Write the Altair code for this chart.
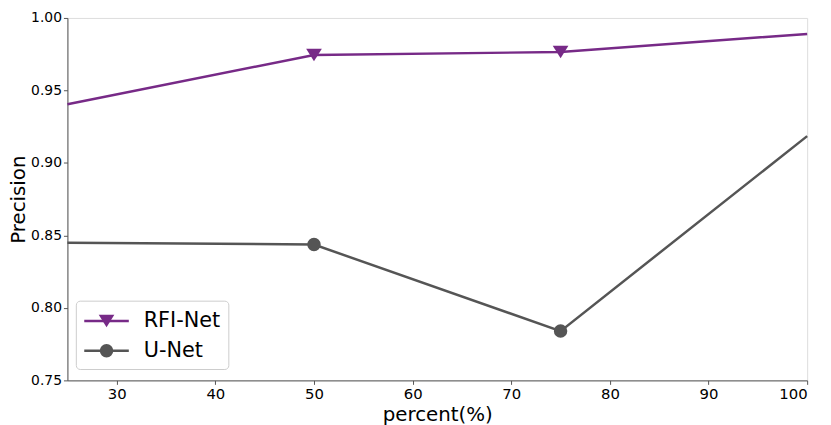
import altair as alt
import pandas as pd

percent = [25, 50, 75, 100]
rfi_net = [0.9405, 0.9745, 0.9765, 0.989]
u_net = [0.845, 0.8437, 0.784, 0.9185]
marker_percent = [50, 75]
series_names = ["RFI-Net", "U-Net"]
series_colors = ["#772a87", "#555555"]

rows = []
for p, a, b in zip(percent, rfi_net, u_net):
    rows.append({"percent": p, "series": "RFI-Net", "value": a})
    rows.append({"percent": p, "series": "U-Net", "value": b})
df = pd.DataFrame(rows)
mk = df[df["percent"].isin(marker_percent)].reset_index(drop=True)

FONT = "DejaVu Sans"
TRI = "M-1,-0.8L1,-0.8L0,0.8Z"
TRI_SIZE = 250
CIR_SIZE = 185

xenc = alt.X("percent:Q", title="percent(%)",
             scale=alt.Scale(domain=[25, 100], nice=False, zero=False),
             axis=alt.Axis(values=[30, 40, 50, 60, 70, 80, 90, 100], grid=False,
                           labelFontSize=15, titleFontSize=20, titleFontWeight="normal",
                           labelFont=FONT, titleFont=FONT, tickSize=4,
                           domainColor="#555555", tickColor="#555555",
                           labelColor="black", titleColor="black", titlePadding=4))
yenc = alt.Y("value:Q", title="Precision",
             scale=alt.Scale(domain=[0.75, 1.0], nice=False, zero=False),
             axis=alt.Axis(values=[0.75, 0.8, 0.85, 0.9, 0.95, 1.0], format=".2f", grid=False,
                           labelFontSize=14, titleFontSize=20, titleFontWeight="normal",
                           labelFont=FONT, titleFont=FONT, tickSize=4,
                           domainColor="#555555", tickColor="#555555",
                           labelColor="black", titleColor="black", titlePadding=2))

lines = alt.Chart(df).mark_line(strokeWidth=2.5).encode(
    x=xenc, y=yenc,
    color=alt.Color("series:N", scale=alt.Scale(domain=series_names, range=series_colors), legend=None),
)

tri = alt.Chart(mk).transform_filter(alt.datum.series == "RFI-Net").mark_point(
    shape=TRI, size=TRI_SIZE, filled=True, opacity=1, color=series_colors[0]
).encode(x="percent:Q", y="value:Q")

cir = alt.Chart(mk).transform_filter(alt.datum.series == "U-Net").mark_point(
    shape="circle", size=CIR_SIZE, filled=True, opacity=1, color=series_colors[1]
).encode(x="percent:Q", y="value:Q")

# legend (drawn as marks, pixel positions inside the plot area)
one = alt.Data(values=[{}])
leg_box = alt.Chart(one).mark_rect(fill="white", stroke="#cccccc", strokeWidth=1, cornerRadius=4).encode(
    x=alt.value(9), x2=alt.value(163), y=alt.value(286), y2=alt.value(355))

legend_layers = [leg_box]
row_y = [306, 336]
shapes = [TRI, "circle"]
sizes = [TRI_SIZE, CIR_SIZE]
for name, col, yy, shp, sz in zip(series_names, series_colors, row_y, shapes, sizes):
    legend_layers.append(alt.Chart(one).mark_rule(color=col, strokeWidth=2.5).encode(
        x=alt.value(17), x2=alt.value(62), y=alt.value(yy)))
    legend_layers.append(alt.Chart(one).mark_point(shape=shp, size=sz, filled=True, opacity=1, color=col).encode(
        x=alt.value(39.5), y=alt.value(yy)))
    legend_layers.append(alt.Chart(one).mark_text(text=name, align="left", baseline="middle",
                                                  fontSize=21, font=FONT, color="black").encode(
        x=alt.value(77), y=alt.value(yy)))

chart = alt.layer(lines, tri, cir, *legend_layers).properties(
    width=747, height=366,
    autosize=alt.AutoSizeParams(type="none"),
    padding={"left": 60, "top": 8, "right": 16, "bottom": 43},
).configure_view(stroke="#999999", strokeWidth=1.2).configure(font=FONT)

chart.save("out.html", embed_options={"renderer": "svg", "actions": False})
